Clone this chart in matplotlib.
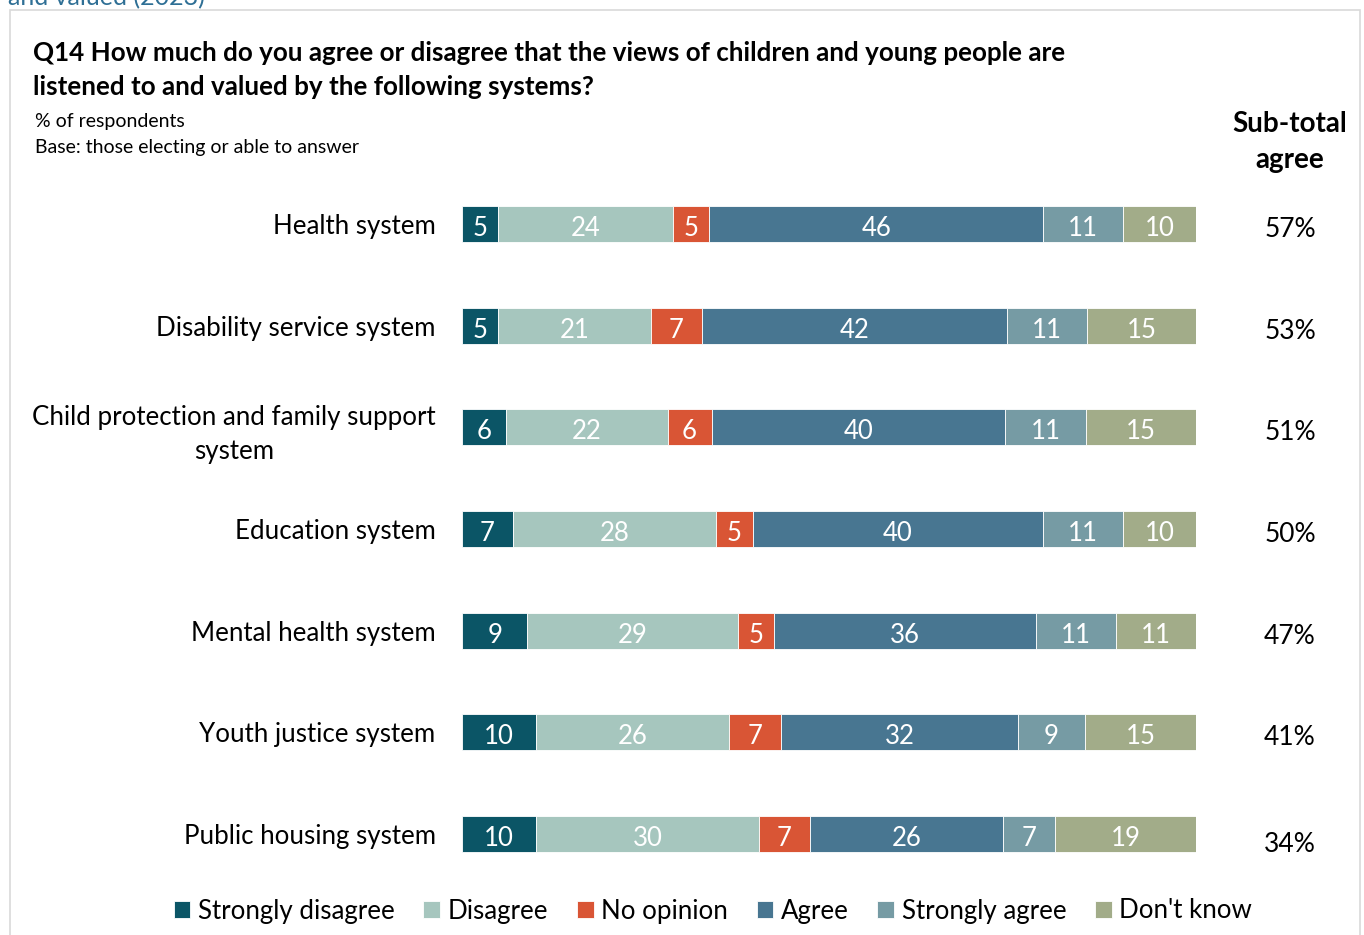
import numpy as np
import matplotlib
matplotlib.use("Agg")
import matplotlib.pyplot as plt
from matplotlib.patches import Rectangle

plt.rcParams['font.family'] = ['Lato', 'DejaVu Sans']

#### data
systems = ["Health system", "Disability service system",
           "Child protection and family support\nsystem", "Education system",
           "Mental health system", "Youth justice system", "Public housing system"]
responses = ["Strongly disagree", "Disagree", "No opinion", "Agree",
             "Strongly agree", "Don't know"]
strongly_disagree = [5, 5, 6, 7, 9, 10, 10]
disagree = [24, 21, 22, 28, 29, 26, 30]
no_opinion = [5, 7, 6, 5, 5, 7, 7]
agree = [46, 42, 40, 40, 36, 32, 26]
strongly_agree = [11, 11, 11, 11, 11, 9, 7]
dont_know = [10, 15, 15, 10, 11, 15, 19]
subtotal_agree = [57, 53, 51, 50, 47, 41, 34]

colors = ["#0b5566", "#a6c6be", "#d95535", "#487691", "#769ba4", "#a2ac89"]

series = np.array([strongly_disagree, disagree, no_opinion, agree,
                   strongly_agree, dont_know], dtype=float)
# bars in the source are all drawn full width, so scale each row to 100
widths = series / series.sum(axis=0) * 100

W, H = 1364, 935
fig = plt.figure(figsize=(W / 100, H / 100), dpi=100)

#### outer frame and cut-off caption
fig.add_artist(Rectangle((10 / W, -0.05), 1350 / W, 1 - 10 / H + 0.05,
                         transform=fig.transFigure, fill=False,
                         edgecolor="#d9d9d9", linewidth=1.2))
fig.text(8 / W, 1 + 2 / H, "and valued (2023)", fontsize=18, color="#2e6f95",
         ha="left", va="center")

#### titles
fig.text(33 / W, 1 - 53 / H,
         "Q14 How much do you agree or disagree that the views of children and young people are",
         fontsize=18.7, fontweight="bold", ha="left", va="center")
fig.text(33 / W, 1 - 87 / H, "listened to and valued by the following systems?",
         fontsize=18.7, fontweight="bold", ha="left", va="center")
fig.text(35 / W, 1 - 121 / H, "% of respondents", fontsize=14, ha="left", va="center")
fig.text(35 / W, 1 - 147 / H, "Base: those electing or able to answer", fontsize=14,
         ha="left", va="center")
fig.text(1290 / W, 1 - 124 / H, "Sub-total", fontsize=20, fontweight="bold",
         ha="center", va="center")
fig.text(1290 / W, 1 - 160 / H, "agree", fontsize=20, fontweight="bold",
         ha="center", va="center")

#### bars
ax = fig.add_axes([462 / W, 1 - 884.8 / H, 734 / W, 711.6 / H])
y = np.arange(len(systems))
left = np.zeros(len(systems))
for k in range(len(responses)):
    ax.barh(y, widths[k], left=left, height=0.355, color=colors[k],
            edgecolor="white", linewidth=0.6, label=responses[k])
    for i in range(len(systems)):
        ax.text(left[i] + widths[k][i] / 2, y[i] + 0.02, f"{int(series[k][i])}",
                ha="center", va="center_baseline", color="white", fontsize=18.5)
    left += widths[k]

for i, v in enumerate(subtotal_agree):
    ax.text(112.8, y[i] + 0.03 + (0.05 if i == 6 else 0), f"{v}%", ha="center",
            va="center_baseline", fontsize=19, clip_on=False)

ax.set_xlim(0, 100)
ax.set_ylim(6.5, -0.5)
ax.set_yticks(y)
ax.set_yticklabels(systems, fontsize=18.6, multialignment="center", linespacing=1.45)
ax.tick_params(axis="y", length=0, pad=19)
ax.set_xticks([])
for s in ax.spines.values():
    s.set_visible(False)

#### legend
handles, labels = ax.get_legend_handles_labels()
fig.legend(handles, labels, loc="center", bbox_to_anchor=(713 / W, 1 - 911 / H),
           ncol=6, frameon=False, fontsize=18.6, handlelength=0.65, handleheight=0.65,
           handletextpad=0.3, columnspacing=1.1)

fig.savefig("out.png", dpi=100)
